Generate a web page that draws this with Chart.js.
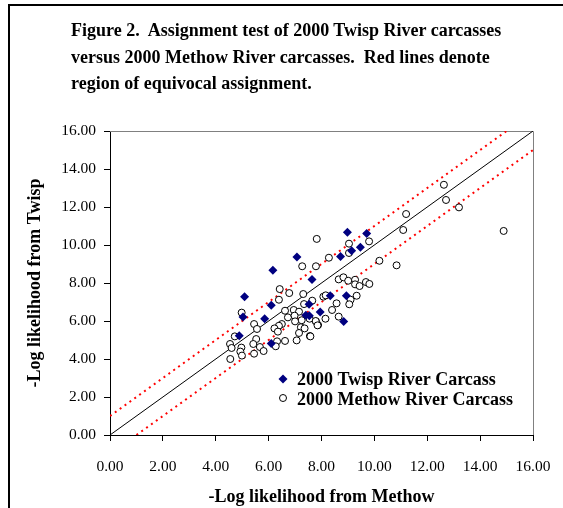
<!DOCTYPE html>
<html>
<head>
<meta charset="utf-8">
<script src="https://cdn.jsdelivr.net/npm/chart.js@4.4.1/dist/chart.umd.min.js"></script>
<style>
  html, body { margin: 0; padding: 0; background: #fff; }
  #wrap { position: relative; width: 563px; height: 508px; overflow: hidden; }
  #frame { position: absolute; left: 8px; top: 4px; width: 700px; height: 700px;
           border-left: 2px solid #000; border-top: 2px solid #000; }
  #title { position: absolute; left: 71px; top: 17px; color: #000;
           font: bold 18px "Liberation Serif", "Times New Roman", serif; line-height: 26.5px; }
  canvas { position: absolute; left: 0; top: 0; }
</style>
</head>
<body>
<div id="wrap">
  <div id="frame"></div>
  <canvas id="chart" width="563" height="508"></canvas>
  <div id="title">Figure 2.&nbsp; Assignment test of 2000 Twisp River carcasses<br>versus 2000 Methow River carcasses.&nbsp; Red lines denote<br>region of equivocal assignment.</div>
</div>
<script>
// values
const twispX = [7.07, 6.16, 7.64, 8.98, 9.71, 9.47, 9.14, 8.72, 5.09, 7.53, 6.10, 5.03, 5.85, 7.95, 6.10, 4.89, 8.33, 8.94, 7.41, 7.54, 8.84];
const twispY = [9.37, 8.67, 8.19, 10.67, 10.61, 9.88, 9.70, 9.39, 7.28, 6.88, 6.83, 6.21, 6.12, 6.48, 4.82, 5.23, 7.33, 7.33, 6.30, 6.28, 5.98];

const methowX = [7.82, 7.27, 7.79, 12.63, 12.71, 13.20, 11.20, 11.09, 14.89, 9.04, 9.80, 9.04, 8.28, 10.19, 10.84,
  8.65, 8.83, 9.01, 9.27, 9.27, 9.44, 9.68, 9.81,
  6.42, 6.78, 7.31, 6.39, 7.65, 7.34, 6.62, 6.95, 7.15, 4.98, 6.73, 6.98, 7.25, 7.00, 7.55, 7.79, 7.87,
  6.50, 6.39, 5.45, 5.56, 6.22, 6.35, 7.22, 7.36, 7.15, 7.56, 7.06, 6.62, 6.32, 6.27, 4.72, 5.53,
  4.54, 5.42, 4.60, 4.97, 4.93, 4.99, 4.55, 5.67, 5.81, 5.45,
  8.07, 8.16, 9.33, 9.10, 9.05, 8.57, 8.40, 8.15, 8.65, 7.78, 7.85, 7.58];
const methowY = [10.32, 8.88, 8.88, 13.17, 12.37, 11.98, 11.63, 10.79, 10.74, 10.07, 10.19, 9.58, 9.33, 9.17, 8.93,
  8.19, 8.30, 8.12, 8.17, 7.93, 7.84, 8.05, 7.95,
  7.68, 7.47, 7.42, 7.12, 7.07, 6.89, 6.54, 6.58, 6.49, 6.44, 6.19, 6.28, 6.04, 5.98, 6.12, 5.98, 5.79,
  5.84, 5.75, 5.84, 5.58, 5.61, 5.44, 5.67, 5.61, 5.37, 5.21, 4.98, 4.95, 4.93, 4.67, 5.19, 5.05,
  4.79, 4.79, 4.58, 4.60, 4.39, 4.18, 4.00, 4.63, 4.42, 4.28,
  7.28, 7.35, 7.33, 7.12, 6.88, 6.93, 6.58, 6.12, 6.23, 6.00, 5.77, 5.19];

// 1:1 line and the +/-1 equivocal band
const diagX = [0, 16];
const diagY = [0, 16];
const upperX = [0, 15];
const upperY = [1, 16];
const lowerX = [1, 16];
const lowerY = [0, 15];

const axisMin = 0;
const axisMax = 16;
const axisStep = 2;

const legendLabels = ["2000 Twisp River Carcass", "2000 Methow River Carcass"];
const xTitle = "-Log likelihood from Methow";
const yTitle = "-Log likelihood from Twisp";

const toPoints = (xs, ys) => xs.map((x, i) => ({ x: x, y: ys[i] }));

const serif = "'Liberation Serif', 'Times New Roman', serif";
const navy = "#000080";

// gray plot frame (top/right), x title and the in-plot legend
const extras = {
  id: "extras",
  beforeDatasetsDraw(chart) {
    const { ctx, chartArea: a } = chart;
    ctx.save();
    ctx.strokeStyle = "#808080";
    ctx.lineWidth = 1;
    ctx.beginPath();
    ctx.moveTo(a.left, a.top + 0.5);
    ctx.lineTo(a.right + 0.5, a.top + 0.5);
    ctx.lineTo(a.right + 0.5, a.bottom);
    ctx.stroke();
    ctx.restore();
  },
  afterDraw(chart) {
    const { ctx, chartArea: a } = chart;
    ctx.save();
    ctx.fillStyle = "#000";
    ctx.font = "bold 18px " + serif;
    ctx.textAlign = "center";
    ctx.textBaseline = "middle";
    ctx.fillText(xTitle, (a.left + a.right) / 2, 497);

    // legend
    const lx = 283;
    const rows = [379, 398];
    ctx.fillStyle = navy;
    ctx.beginPath();
    ctx.moveTo(lx, rows[0] - 4.5);
    ctx.lineTo(lx + 4.5, rows[0]);
    ctx.lineTo(lx, rows[0] + 4.5);
    ctx.lineTo(lx - 4.5, rows[0]);
    ctx.closePath();
    ctx.fill();
    ctx.beginPath();
    ctx.arc(lx, rows[1], 3.5, 0, Math.PI * 2);
    ctx.fillStyle = "#fff";
    ctx.fill();
    ctx.strokeStyle = "#000";
    ctx.lineWidth = 1;
    ctx.stroke();

    ctx.fillStyle = "#000";
    ctx.textAlign = "left";
    ctx.font = "bold 18px " + serif;
    ctx.fillText(legendLabels[0], 297, rows[0] + 1);
    ctx.fillText(legendLabels[1], 297, rows[1] + 2);
    ctx.restore();
  }
};

const tickFont = { family: serif, size: 15.5 };
// taller line box pushes the x labels down without widening the side padding
const xTickFont = { family: serif, size: 15.5, lineHeight: 1.9 };

new Chart(document.getElementById("chart"), {
  type: "scatter",
  data: {
    datasets: [
      {
        label: legendLabels[0],
        data: toPoints(twispX, twispY),
        pointStyle: "rectRot",
        pointRadius: 4.5,
        backgroundColor: navy,
        borderColor: navy,
        borderWidth: 0
      },
      {
        label: legendLabels[1],
        data: toPoints(methowX, methowY),
        pointStyle: "circle",
        pointRadius: 3.5,
        backgroundColor: "#fff",
        borderColor: "#000",
        borderWidth: 1
      },
      {
        type: "line",
        data: toPoints(diagX, diagY),
        borderColor: "#000",
        borderWidth: 1,
        pointRadius: 0
      },
      {
        type: "line",
        data: toPoints(upperX, upperY),
        borderColor: "#ff0000",
        borderWidth: 2,
        borderDash: [2, 4],
        pointRadius: 0
      },
      {
        type: "line",
        data: toPoints(lowerX, lowerY),
        borderColor: "#ff0000",
        borderWidth: 2,
        borderDash: [2, 4],
        pointRadius: 0
      }
    ]
  },
  options: {
    responsive: false,
    devicePixelRatio: 1,
    animation: false,
    events: [],
    layout: { padding: { top: 131, right: 30, left: 0, bottom: 0 } },
    plugins: {
      legend: { display: false },
      tooltip: { enabled: false }
    },
    scales: {
      x: {
        type: "linear",
        min: axisMin,
        max: axisMax,
        afterFit: (s) => { s.height = 73; },
        ticks: {
          stepSize: axisStep,
          color: "#000",
          font: xTickFont,
          padding: 11,
          maxRotation: 0,
          callback: (v) => Number(v).toFixed(2)
        },
        grid: { drawOnChartArea: false, drawTicks: true, tickLength: 6, color: "#000" },
        border: { color: "#000", width: 1 }
      },
      y: {
        type: "linear",
        min: axisMin,
        max: axisMax,
        afterFit: (s) => { s.width = 110; },
        ticks: {
          stepSize: axisStep,
          color: "#000",
          font: tickFont,
          padding: 8,
          callback: (v) => Number(v).toFixed(2)
        },
        grid: { drawOnChartArea: false, drawTicks: true, tickLength: 6, color: "#000" },
        border: { color: "#000", width: 1 },
        title: {
          display: true,
          text: yTitle,
          color: "#000",
          font: { family: serif, size: 18, weight: "bold" },
          padding: { top: 25, bottom: 0 }
        }
      }
    }
  },
  plugins: [extras]
});
</script>
</body>
</html>
